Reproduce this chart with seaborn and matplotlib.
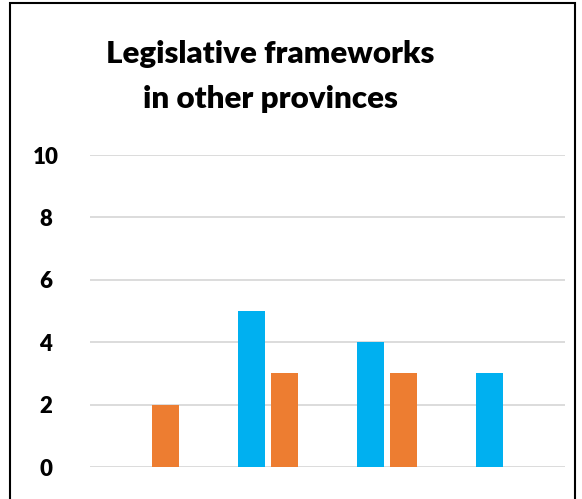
import matplotlib
matplotlib.use("Agg")
import matplotlib.pyplot as plt
import seaborn as sns
import pandas as pd
from matplotlib.patches import Rectangle

categories = ["A", "B", "C", "D"]
series_names = ["Series 1", "Series 2"]
blue_values = [0, 5, 4, 3]
orange_values = [2, 3, 3, 0]
y_ticks = [0, 2, 4, 6, 8, 10]

df = pd.DataFrame({
    "category": categories * 2,
    "series": [series_names[0]] * 4 + [series_names[1]] * 4,
    "value": blue_values + orange_values,
})

sns.set_theme(style="white")
plt.rcParams["font.family"] = ["Lato", "DejaVu Sans"]
plt.rcParams["text.color"] = "black"
plt.rcParams["ytick.color"] = "black"

fig = plt.figure(figsize=(5.82, 4.99), dpi=100)
ax = fig.add_axes([90/582, 1-467/499, 475/582, (467-155)/499])

sns.barplot(data=df, x="category", y="value", hue="series",
            palette=["#00B0F0", "#ED7D31"], width=0.556, gap=0.18,
            saturation=1, ax=ax, legend=False, linewidth=0)

ax.set_ylim(0, 10)
ax.set_xlim(-0.5, 3.5)
ax.set_yticks(y_ticks)
ax.set_yticklabels([str(t) for t in y_ticks], fontsize=16, fontweight="heavy",
                   ha="center", color="black")
ax.tick_params(axis="y", length=0, pad=32)
ax.set_xticks([])
ax.set_xlabel("")
ax.set_ylabel("")
for s in ax.spines.values():
    s.set_visible(False)
ax.yaxis.grid(True, color="#d9d9d9", linewidth=1.3)
ax.set_axisbelow(True)

fig.text(270/582, 1-54/499, "Legislative frameworks", ha="center", va="center",
         fontsize=22.5, fontweight="heavy", color="black")
fig.text(270/582, 1-99/499, "in other provinces", ha="center", va="center",
         fontsize=22.5, fontweight="heavy", color="black")

fig.patches.append(Rectangle((10/582, -0.1), 565/582, 1.1 - 3/499,
                             transform=fig.transFigure, fill=False,
                             edgecolor="black", linewidth=1.5))

fig.savefig("out.png", dpi=100)
